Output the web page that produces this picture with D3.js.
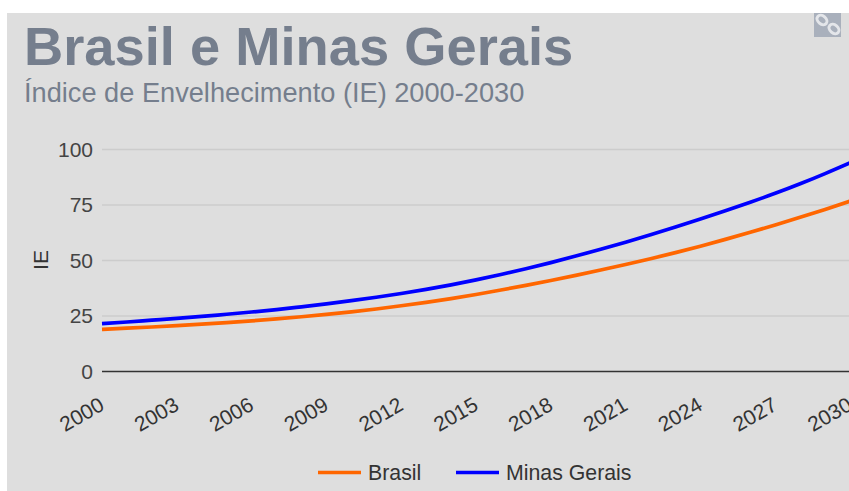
<!DOCTYPE html>
<html><head><meta charset="utf-8">
<script src="https://cdn.jsdelivr.net/npm/d3@7/dist/d3.min.js"></script>
<style>html,body{margin:0;padding:0;background:#fff;overflow:hidden}svg{display:block}text{font-family:"Liberation Sans",Arial,sans-serif}</style>
</head><body><svg id="c" width="849" height="491"></svg>
<script>
const years = d3.range(2000, 2031);
const tickYears = [2000,2003,2006,2009,2012,2015,2018,2021,2024,2027,2030];
const yTicks = [0,25,50,75,100];
const brasil = [19.0,19.5,20.05,20.65,21.3,22.0,22.8,23.7,24.65,25.7,26.85,28.15,29.6,31.15,32.85,34.7,36.7,38.8,41.0,43.3,45.7,48.2,50.8,53.55,56.45,59.5,62.7,66.0,69.45,73.0,76.7];
const minas = [21.6,22.3,23.1,23.9,24.8,25.8,26.8,27.9,29.15,30.45,31.9,33.45,35.15,37.0,39.05,41.3,43.7,46.3,49.05,52.0,55.05,58.25,61.6,65.1,68.7,72.4,76.25,80.25,84.55,89.15,94.0];
const seriesNames = ["Brasil","Minas Gerais"];
const seriesColors = ["#ff6600","#0000ff"];
const title = "Brasil e Minas Gerais", subtitle = "Índice de Envelhecimento (IE) 2000-2030", yTitle = "IE";

const svg = d3.select("#c");
svg.append("rect").attr("x",7).attr("y",13).attr("width",842).attr("height",478).attr("fill","#dedede");
const x = d3.scaleLinear().domain([2000,2030]).range([102,850]);
const y = d3.scaleLinear().domain([0,100]).range([371.5,149.5]);

svg.append("text").attr("x",24).attr("y",65).attr("font-size",54.3).attr("font-weight","bold").attr("fill","#757e8d").text(title);
svg.append("text").attr("x",24).attr("y",102).attr("font-size",27.2).attr("fill","#757e8d").text(subtitle);

// link icon
const ic = svg.append("g");
ic.append("rect").attr("x",814).attr("y",13).attr("width",27).attr("height",24).attr("fill","#a9b0bc");
ic.selectAll("ellipse").data([[822,20],[834,29]]).join("ellipse")
  .attr("cx",d=>d[0]).attr("cy",d=>d[1]).attr("rx",5.5).attr("ry",4).attr("transform",d=>`rotate(40 ${d[0]} ${d[1]})`)
  .attr("fill","none").attr("stroke","#e4e6ea").attr("stroke-width",3);

const yAxis = d3.axisLeft(y).tickValues(yTicks).tickSize(0).tickPadding(9);
const gy = svg.append("g").attr("transform","translate(102,0)").call(yAxis);
gy.select(".domain").remove();
gy.selectAll("text").attr("font-size",21).attr("fill","#444444").style("font-family",'"Liberation Sans",Arial,sans-serif');
svg.append("g").selectAll("line").data(yTicks).join("line")
  .attr("x1",102).attr("x2",849).attr("y1",d=>y(d)).attr("y2",d=>y(d))
  .attr("stroke",d=>d===0?"#333333":"#cccccc").attr("stroke-width",d=>d===0?1.6:1.4);

svg.append("text").attr("transform","translate(48,260) rotate(-90)").attr("text-anchor","middle").attr("font-size",21).attr("fill","#333333").text(yTitle);

const xAxis = d3.axisBottom(x).tickValues(tickYears).tickFormat(d3.format("d")).tickSize(0);
const gx = svg.append("g").attr("transform","translate(0,371)").call(xAxis);
gx.select(".domain").remove();
gx.selectAll("text").attr("font-size",21).attr("fill","#333333").style("font-family",'"Liberation Sans",Arial,sans-serif')
  .attr("text-anchor","end").attr("dy",0).attr("y",0).attr("transform","translate(3,38) rotate(-30)");

const line = d3.line().x((d,i)=>x(years[i])).y(d=>y(d)).curve(d3.curveMonotoneX);
[brasil,minas].forEach((s,i)=>{
  svg.append("path").attr("d",line(s)).attr("fill","none").attr("stroke",seriesColors[i]).attr("stroke-width",3.7);
});

const lx=[318,456];
seriesNames.forEach((n,i)=>{
  svg.append("line").attr("x1",lx[i]).attr("x2",lx[i]+43).attr("y1",472.5).attr("y2",472.5).attr("stroke",seriesColors[i]).attr("stroke-width",3.7);
  svg.append("text").attr("x",lx[i]+50).attr("y",480).attr("font-size",21.3).attr("fill","#333333").text(n);
});
</script></body></html>
